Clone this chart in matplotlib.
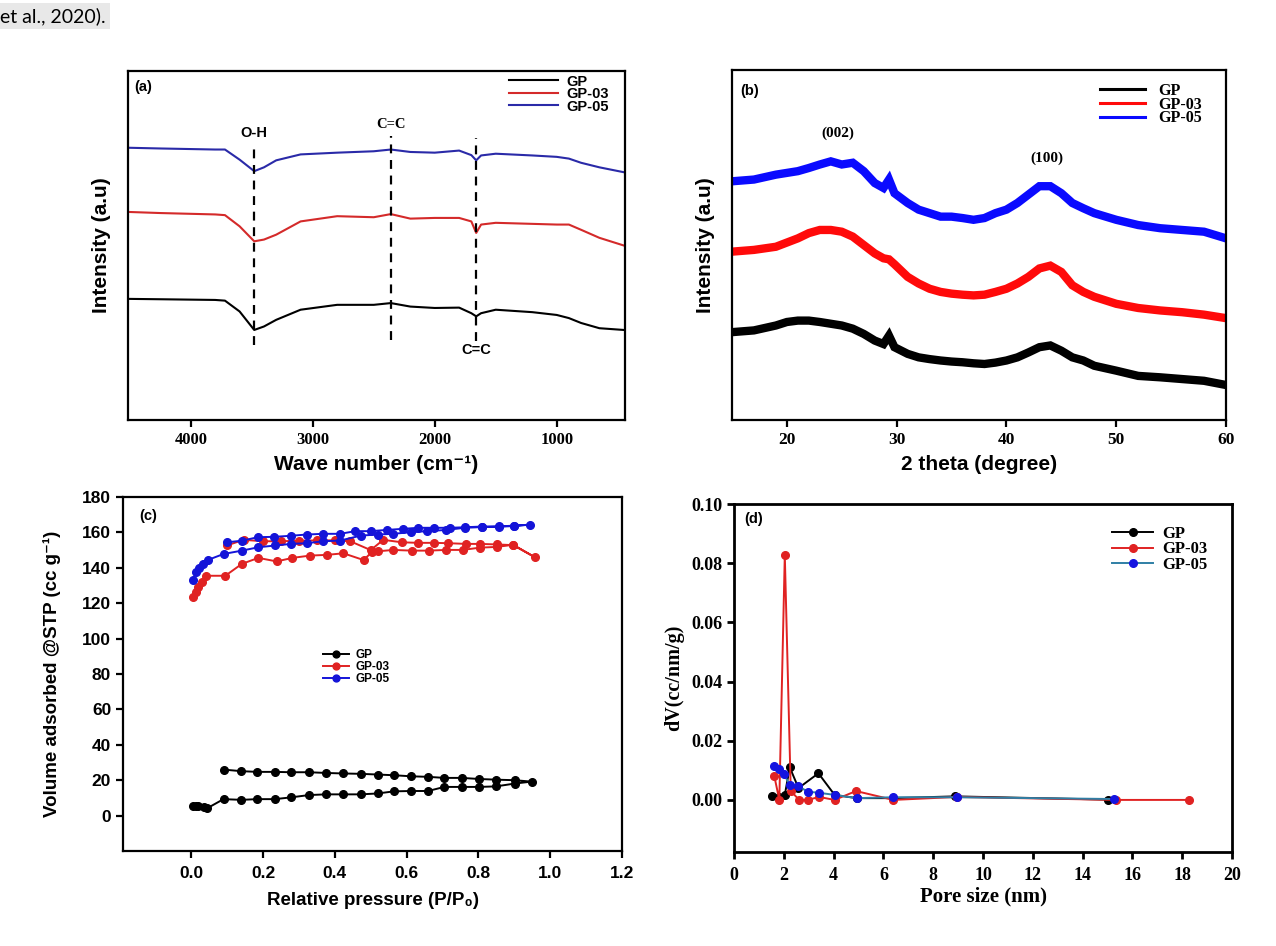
import matplotlib
matplotlib.use("Agg")
import matplotlib.pyplot as plt

# figure size in pixels
W, H = 1276, 946

SANS = ['Liberation Sans', 'DejaVu Sans']
SERIF = ['Liberation Serif', 'DejaVu Serif']

# ---------------- (a) FTIR ----------------
wn_a = [4500, 4250, 3800, 3720, 3600, 3480, 3400, 3300, 3100, 2800, 2500, 2360,
        2200, 2000, 1800, 1700, 1660, 1620, 1500, 1200, 1000, 900, 800, 650, 450]
ftir_gp = [34.7, 34.6, 34.4, 34.2, 31.1, 25.8, 26.8, 28.7, 31.6, 33.0, 33.0, 33.5,
           32.5, 32.1, 32.2, 30.6, 29.7, 30.6, 31.6, 30.9, 30.1, 29.2, 27.8, 26.3, 25.8]
ftir_gp03 = [59.6, 59.3, 58.9, 58.7, 55.5, 51.2, 51.7, 53.1, 56.9, 58.4, 58.1, 59.0,
             57.7, 57.9, 57.9, 56.9, 53.6, 56.0, 56.5, 56.2, 56.0, 56.0, 54.5, 52.2, 50.0]
ftir_gp05 = [78.0, 77.8, 77.5, 77.5, 74.6, 71.3, 72.4, 74.4, 76.1, 76.6, 77.0, 77.5,
             76.8, 76.6, 77.2, 75.9, 74.4, 75.8, 76.3, 75.8, 75.4, 74.9, 73.7, 72.4, 71.0]
peak_pos = [3480, 2360, 1660]
peak_lo = [21.5, 23.0, 22.5]
peak_hi = [79.4, 81.3, 80.7]

# ---------------- (b) XRD ----------------
theta = [15, 17, 19, 20, 21, 22, 23, 24, 25, 26, 27, 28, 28.8, 29.3, 29.8, 31, 32, 33,
         34, 35, 36, 37, 38, 39, 40, 41, 42, 43, 44, 45, 46, 47, 48, 50, 52, 54, 56, 58, 60]
xrd_gp05 = [68.2, 68.7, 70.1, 70.6, 71.1, 72.0, 73.0, 73.9, 73.0, 73.5, 71.1, 67.7, 66.3,
            68.7, 64.8, 62.0, 60.1, 59.1, 58.1, 58.1, 57.7, 57.2, 57.7, 59.1, 60.1, 62.0,
            64.4, 66.8, 66.8, 64.8, 62.0, 60.5, 59.1, 57.2, 55.7, 54.8, 54.3, 53.8, 51.9]
xrd_gp03 = [48.1, 48.6, 49.5, 50.7, 51.9, 53.4, 54.3, 54.3, 53.8, 52.4, 50.0, 47.6, 46.2,
            45.9, 44.5, 40.9, 39.0, 37.5, 36.6, 36.1, 35.8, 35.6, 35.8, 36.6, 37.5, 39.0,
            40.9, 43.3, 44.1, 42.3, 38.5, 36.6, 35.2, 33.2, 32.0, 31.3, 30.8, 30.1, 29.1]
xrd_gp = [25.1, 25.6, 27.0, 28.0, 28.4, 28.4, 28.0, 27.5, 27.0, 26.1, 24.6, 22.7, 21.7,
          24.1, 20.8, 18.9, 17.9, 17.4, 17.0, 16.7, 16.5, 16.2, 16.0, 16.4, 17.0, 17.9,
          19.3, 20.8, 21.3, 19.8, 17.9, 17.0, 15.5, 14.1, 12.6, 12.2, 11.7, 11.2, 10.0]

# ---------------- (c) N2 isotherms ----------------
p_gp = [0.005, 0.012, 0.02, 0.035, 0.045, 0.09, 0.14, 0.184, 0.233, 0.278, 0.328, 0.375,
        0.424, 0.472, 0.519, 0.565, 0.613, 0.66, 0.705, 0.753, 0.801, 0.849, 0.901, 0.948,
        0.901, 0.849, 0.801, 0.753, 0.705, 0.66, 0.613, 0.565, 0.519, 0.472, 0.424, 0.375,
        0.328, 0.278, 0.233, 0.184, 0.14, 0.09]
v_gp = [5.5, 5.5, 5.7, 5.1, 4.2, 9.3, 8.9, 9.3, 9.3, 10.3, 11.6, 12.0,
        12.0, 12.0, 12.5, 13.7, 13.9, 13.9, 16.2, 16.2, 16.2, 16.5, 18.1, 19.2,
        20.0, 20.3, 20.7, 21.3, 21.3, 21.9, 22.2, 22.8, 23.2, 23.6, 23.8, 24.1,
        24.5, 24.5, 24.7, 24.7, 25.1, 26.0]
p_gp03 = [0.005, 0.012, 0.02, 0.03, 0.042, 0.095, 0.141, 0.187, 0.238, 0.282, 0.331, 0.378,
          0.424, 0.48, 0.503, 0.519, 0.563, 0.614, 0.661, 0.71, 0.756, 0.805, 0.851, 0.897,
          0.958, 0.897, 0.851, 0.805, 0.766, 0.716, 0.675, 0.633, 0.587, 0.535, 0.50,
          0.443, 0.40, 0.35, 0.30, 0.25, 0.20, 0.146, 0.099]
v_gp03 = [123.6, 126.4, 128.9, 131.7, 135.5, 135.5, 142.2, 145.6, 143.6, 145.6, 146.9, 147.3,
          148.2, 144.4, 148.8, 149.3, 150.1, 149.7, 149.7, 150.1, 150.1, 151.4, 151.8, 153.0,
          145.9, 152.8, 153.2, 153.5, 153.5, 153.9, 154.1, 154.1, 154.4, 155.8, 150.0,
          155.0, 155.5, 155.5, 155.3, 155.0, 155.0, 155.8, 152.6]
p_gp05 = [0.004, 0.014, 0.023, 0.033, 0.046, 0.09, 0.141, 0.187, 0.234, 0.278, 0.322, 0.368,
          0.415, 0.473, 0.519, 0.563, 0.611, 0.658, 0.71, 0.762, 0.809, 0.856, 0.90, 0.945,
          0.90, 0.856, 0.809, 0.762, 0.72, 0.677, 0.633, 0.589, 0.545, 0.50, 0.457, 0.415,
          0.368, 0.322, 0.278, 0.232, 0.186, 0.141, 0.099]
v_gp05 = [133.1, 137.4, 139.9, 142.2, 144.4, 147.8, 149.7, 151.6, 152.6, 153.5, 153.9, 155.0,
          155.4, 158.2, 158.8, 159.2, 160.1, 160.7, 161.4, 162.6, 163.0, 163.2, 163.6, 164.4,
          163.8, 163.4, 163.3, 162.9, 162.6, 162.6, 162.6, 162.0, 161.4, 160.7, 160.7, 159.2,
          159.2, 158.8, 158.1, 157.5, 157.3, 155.3, 154.4]

# ---------------- (d) pore size distribution ----------------
d_gp = [1.54, 1.82, 2.04, 2.24, 2.59, 3.39, 4.04, 4.93, 6.4, 8.87, 15.03]
dv_gp = [0.0012, 0.001, 0.0017, 0.011, 0.004, 0.009, 0.0017, 0.0006, 0.0006, 0.0012, 0.0001]
d_gp03 = [1.62, 1.82, 2.04, 2.28, 2.62, 2.96, 3.42, 4.04, 4.9, 6.4, 8.94, 15.34, 18.27]
dv_gp03 = [0.008, 0.0, 0.0827, 0.003, 0.0, 0.0, 0.001, 0.0, 0.003, 0.0, 0.001, 0.0, 0.0]
d_gp05 = [1.59, 1.82, 2.0, 2.24, 2.59, 2.96, 3.42, 4.04, 4.93, 6.4, 8.94, 15.27]
dv_gp05 = [0.0114, 0.0105, 0.0088, 0.0051, 0.0046, 0.0028, 0.0024, 0.0017, 0.0006, 0.0009,
           0.0009, 0.0003]

names = ['GP', 'GP-03', 'GP-05']

fig = plt.figure(figsize=(W / 100, H / 100), dpi=100)


def box(l, t, r, b):
    return fig.add_axes([l / W, 1 - b / H, (r - l) / W, (b - t) / H])


def style(ax, lw=1.6):
    for s in ax.spines.values():
        s.set_linewidth(lw)
    ax.tick_params(direction='out', length=5, width=lw)


def tick_font(ax, family, size):
    for lab in ax.get_xticklabels() + ax.get_yticklabels():
        lab.set_family(family)
        lab.set_fontweight('bold')
        lab.set_fontsize(size)


fig.text(0.0, 1 - 16 / H, 'et al., 2020).', fontsize=14, family=['Lato', 'DejaVu Sans'],
         ha='left', va='center',
         bbox=dict(facecolor='#e8e8e8', edgecolor='none', pad=3))

# ---- panel (a)
ax = box(128, 71, 625, 420)
style(ax)
ax.plot(wn_a, ftir_gp, color='black', lw=1.5, label=names[0])
ax.plot(wn_a, ftir_gp03, color='#d42a2a', lw=1.5, label=names[1])
ax.plot(wn_a, ftir_gp05, color='#2a2aa8', lw=1.5, label=names[2])
ax.vlines(peak_pos, peak_lo, peak_hi, colors='black', linestyles=(0, (4, 3)), lw=1.6)
ax.set_xlim(4515, 440)
ax.set_ylim(0, 100)
ax.set_yticks([])
ax.set_xticks([4000, 3000, 2000, 1000])
tick_font(ax, SERIF, 12)
ax.set_xlabel('Wave number (cm⁻¹)', family=SANS, fontweight='bold', fontsize=15)
ax.set_ylabel('Intensity (a.u)', family=SANS, fontweight='bold', fontsize=15)
ax.yaxis.set_label_coords(-0.035, 0.5)
ax.xaxis.set_label_coords(0.5, -0.1)
ax.text(4390, 95.4, '(a)', family=SANS, fontweight='bold', fontsize=10.5, ha='center', va='center')
ax.text(3480, 82.3, 'O-H', family=SANS, fontweight='bold', fontsize=10.5, ha='center', va='center')
ax.text(2360, 84.7, 'C=C', family=SERIF, fontweight='bold', fontsize=10.5, ha='center', va='center')
ax.text(1660, 20.1, 'C=C', family=SANS, fontweight='bold', fontsize=10.5, ha='center', va='center')
ax.legend(loc='upper right', bbox_to_anchor=(0.985, 1.015), frameon=False,
          prop=dict(family=SANS, weight='bold', size=10.5), handlelength=3.3,
          labelspacing=-0.1, handletextpad=0.6, borderaxespad=0.2)

# ---- panel (b)
ax = box(732, 70, 1226, 420)
style(ax)
ax.plot(theta, xrd_gp, color='black', lw=6, solid_joinstyle='miter', label=names[0])
ax.plot(theta, xrd_gp03, color='#ff0a0a', lw=6, solid_joinstyle='miter', label=names[1])
ax.plot(theta, xrd_gp05, color='#0a0aff', lw=6, solid_joinstyle='miter', label=names[2])
ax.set_xlim(15, 60)
ax.set_ylim(0, 100)
ax.set_yticks([])
ax.set_xticks([20, 30, 40, 50, 60])
tick_font(ax, SERIF, 12.5)
ax.set_xlabel('2 theta (degree)', family=SANS, fontweight='bold', fontsize=15)
ax.set_ylabel('Intensity (a.u)', family=SANS, fontweight='bold', fontsize=15)
ax.yaxis.set_label_coords(-0.035, 0.5)
ax.xaxis.set_label_coords(0.5, -0.1)
ax.text(16.6, 94.1, '(b)', family=SANS, fontweight='bold', fontsize=10.5, ha='center', va='center')
ax.text(24.6, 82.0, '(002)', family=SERIF, fontweight='bold', fontsize=11, ha='center', va='center')
ax.text(43.7, 74.7, '(100)', family=SERIF, fontweight='bold', fontsize=11, ha='center', va='center')
leg = ax.legend(loc='upper right', bbox_to_anchor=(0.97, 0.99), frameon=False,
                prop=dict(family=SERIF, weight='bold', size=11.5), handlelength=2.8,
                labelspacing=-0.15, handletextpad=0.8, borderaxespad=0.2)
for h in leg.get_lines():
    h.set_linewidth(2.2)

# ---- panel (c)
ax = box(123, 497, 622, 851)
style(ax)
mk = dict(marker='o', markersize=5.5, lw=1.4)
ax.plot(p_gp, v_gp, color='black', label=names[0], **mk)
ax.plot(p_gp03, v_gp03, color='#e02222', label=names[1], **mk)
ax.plot(p_gp05, v_gp05, color='#1414d8', label=names[2], **mk)
ax.set_xlim(-0.19, 1.2)
ax.set_ylim(-20, 180)
ax.set_xticks([0.0, 0.2, 0.4, 0.6, 0.8, 1.0, 1.2])
ax.set_yticks(range(0, 181, 20))
ax.set_xticklabels(['0.0', '0.2', '0.4', '0.6', '0.8', '1.0', '1.2'])
tick_font(ax, SANS, 12.5)
ax.tick_params(axis='x', pad=6)
ax.set_xlabel('Relative pressure (P/P₀)', family=SANS, fontweight='bold', fontsize=13.5)
ax.set_ylabel('Volume adsorbed @STP (cc g⁻¹)', family=SANS, fontweight='bold', fontsize=13.5)
ax.yaxis.set_label_coords(-0.125, 0.5)
ax.xaxis.set_label_coords(0.5, -0.115)
ax.text(-0.12, 169.5, '(c)', family=SANS, fontweight='bold', fontsize=10.5, ha='center', va='center')
ax.legend(loc='upper left', bbox_to_anchor=(0.355, 97), bbox_transform=ax.transData,
          frameon=False, prop=dict(family=SANS, weight='bold', size=8.5),
          handlelength=2.2, labelspacing=0.0, handletextpad=0.5, borderaxespad=0,
          markerscale=0.9)

# ---- panel (d)
ax = box(734, 504, 1232, 852)
style(ax, lw=2)
mk = dict(marker='o', markersize=5.5, lw=1.4)
ax.plot(d_gp, dv_gp, color='black', label=names[0], **mk)
ax.plot(d_gp03, dv_gp03, color='#e02222', label=names[1], **mk)
ax.plot(d_gp05, dv_gp05, color='#2f7fa5', markerfacecolor='#1414e0',
        markeredgecolor='#1414e0', label=names[2], **mk)
ax.set_xlim(0, 20)
ax.set_ylim(-0.0176, 0.10)
ax.set_xticks(range(0, 21, 2))
ax.set_yticks([0.0, 0.02, 0.04, 0.06, 0.08, 0.10])
ax.set_yticklabels(['0.00', '0.02', '0.04', '0.06', '0.08', '0.10'])
tick_font(ax, SERIF, 13)
ax.tick_params(axis='x', pad=6)
ax.set_xlabel('Pore size (nm)', family=SERIF, fontweight='bold', fontsize=15)
ax.set_ylabel('dV(cc/nm/g)', family=SERIF, fontweight='bold', fontsize=14.5)
ax.yaxis.set_label_coords(-0.1, 0.5)
ax.xaxis.set_label_coords(0.5, -0.1)
ax.text(0.77, 0.0949, '(d)', family=SANS, fontweight='bold', fontsize=10.5, ha='center', va='center')
ax.legend(loc='upper right', bbox_to_anchor=(0.97, 0.965), frameon=False,
          prop=dict(family=SERIF, weight='bold', size=12), handlelength=2.5,
          labelspacing=-0.05, handletextpad=0.5, borderaxespad=0.2)

fig.savefig('out.png', dpi=100)
